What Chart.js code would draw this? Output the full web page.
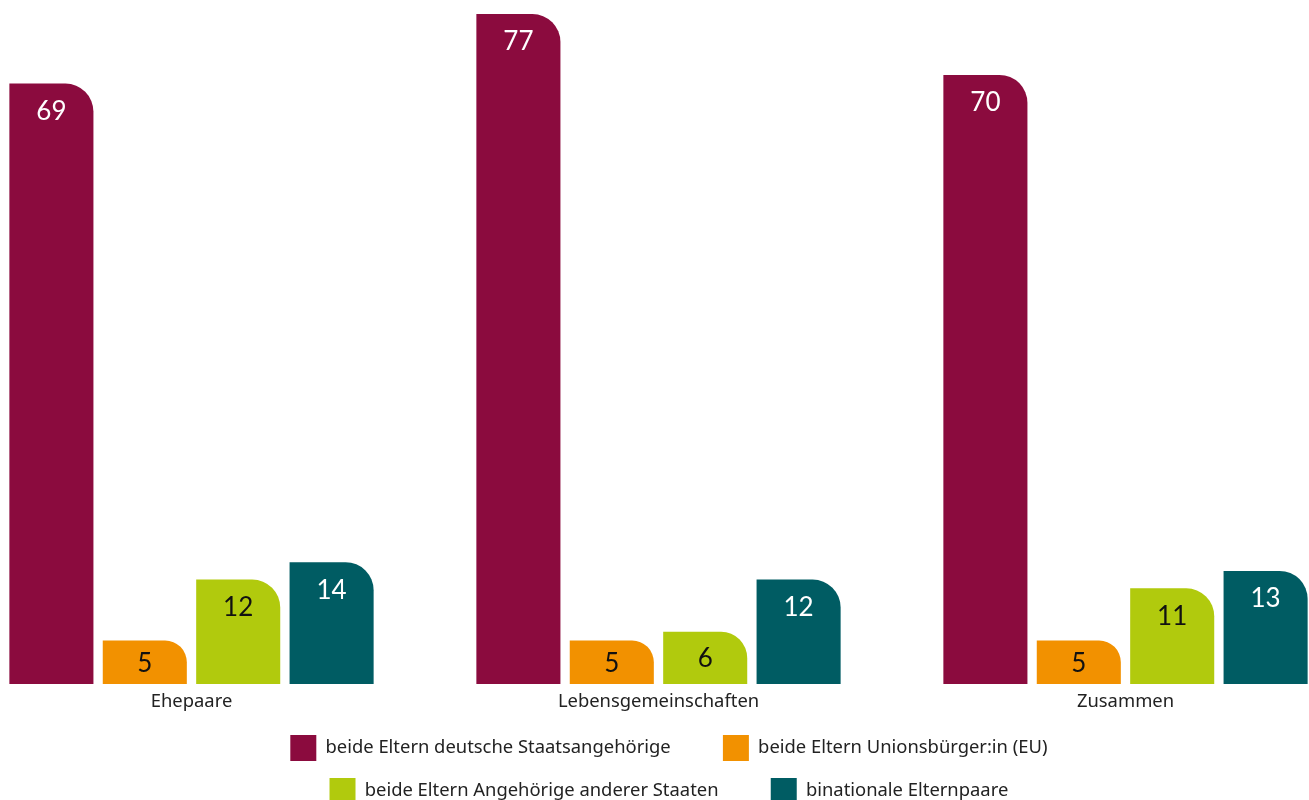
<!DOCTYPE html>
<html lang="de">
<head>
<meta charset="utf-8">
<script src="https://cdn.jsdelivr.net/npm/chart.js@4"></script>
<style>
  html, body { margin: 0; padding: 0; background: #fff; overflow: hidden; width: 1309px; height: 800px; }
  #chart { position: absolute; left: -42px; top: 0; }
</style>
</head>
<body>
<canvas id="chart" width="1423" height="813"></canvas>
<script>
const categories = ["Ehepaare", "Lebensgemeinschaften", "Zusammen"];
const seriesNames = [
  "beide Eltern deutsche Staatsangehörige",
  "beide Eltern Unionsbürger:in (EU)",
  "beide Eltern Angehörige anderer Staaten",
  "binationale Elternpaare"
];
const deutsche = [69, 77, 70];
const unionsbuerger = [5, 5, 5];
const andereStaaten = [12, 6, 11];
const binational = [14, 12, 13];

const colors = ["#8b0b3e", "#f29100", "#b1ca0d", "#005c63"];
const labelColors = ["#ffffff", "#111111", "#111111", "#ffffff"];
const textFont = "'Noto Sans', 'Open Sans', sans-serif";
const numberFont = "Lato, 'Noto Sans', sans-serif";

// Werte oben in den Balken
const barValues = {
  id: "barValues",
  afterDatasetsDraw(chart) {
    const ctx = chart.ctx;
    ctx.save();
    ctx.font = "26px " + numberFont;
    ctx.textAlign = "center";
    ctx.textBaseline = "middle";
    chart.data.datasets.forEach(function (ds, i) {
      chart.getDatasetMeta(i).data.forEach(function (bar, j) {
        const y = Math.min(bar.y + 28, (bar.y + bar.base) / 2 + 1);
        ctx.fillStyle = labelColors[i];
        ctx.fillText(String(ds.data[j]), bar.x, y);
      });
    });
    ctx.restore();
  }
};

// Legende in zwei Zeilen umbrechen und etwas verschieben
const legendRows = {
  id: "legendRows",
  beforeLayout(chart) {
    const lg = chart.legend;
    if (!lg || lg._rowsPatched) return;
    const upd = lg.update.bind(lg);
    lg.update = function (w, h, m) { return upd(Math.min(w, 1000), h, m); };
    lg._rowsPatched = true;
  },
  afterLayout(chart) {
    chart.legend.left += 28;
    chart.legend.right += 28;
    chart.legend.top += 1;
  }
};

const seriesData = [deutsche, unionsbuerger, andereStaaten, binational];

new Chart(document.getElementById("chart"), {
  type: "bar",
  data: {
    labels: categories,
    datasets: seriesData.map(function (values, i) {
      return {
        label: seriesNames[i],
        data: values,
        backgroundColor: colors[i],
        borderRadius: { topLeft: 0, topRight: 28, bottomLeft: 0, bottomRight: 0 },
        borderSkipped: "bottom",
        categoryPercentage: 0.8,
        barPercentage: 0.9
      };
    })
  },
  options: {
    responsive: false,
    animation: false,
    layout: { padding: { left: 0, right: 22, top: 14, bottom: 0 } },
    scales: {
      x: {
        grid: { display: false, drawTicks: false },
        border: { display: false },
        ticks: { color: "#222", padding: 7, font: { family: textFont, size: 18.4 } },
        afterFit: function (scale) { scale.height = 33; }
      },
      y: {
        display: false,
        min: 0,
        max: 77
      }
    },
    plugins: {
      tooltip: { enabled: false },
      legend: {
        position: "bottom",
        labels: {
          boxWidth: 26,
          boxHeight: 26,
          padding: 17,
          color: "#222",
          font: { family: textFont, size: 18.4 },
          generateLabels: function (chart) {
            return Chart.defaults.plugins.legend.labels.generateLabels(chart).map(function (item) {
              item.text = item.text + "\u2003\u2002\u2005\u2009";
              item.lineWidth = 0;
              return item;
            });
          }
        }
      }
    }
  },
  plugins: [barValues, legendRows]
});
</script>
</body>
</html>
